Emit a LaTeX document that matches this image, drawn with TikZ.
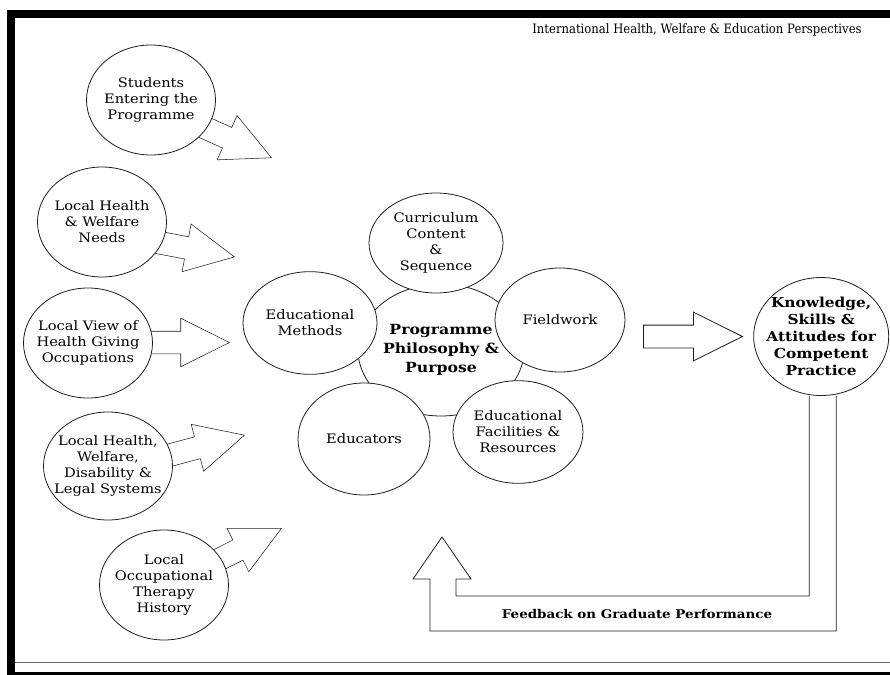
\documentclass[tikz,border=0pt]{standalone}
\usepackage{fontspec}
\setmainfont{DejaVu Serif}[FakeStretch=1.12]
\newfontfamily\headfont{DejaVu Serif}[FakeStretch=0.9]
\usetikzlibrary{positioning,shapes.geometric,shapes.arrows,backgrounds}
\definecolor{ink}{HTML}{1E1E1E}

\begin{document}
\begin{tikzpicture}[
  x=0.75pt, y=-0.75pt,
  font=\fontsize{9.8}{12}\selectfont,
  line width=0.6pt,
  blob/.style={ellipse, draw=ink, fill=white, align=center, inner xsep=-8pt, inner ysep=0pt, minimum width=96.75pt, minimum height=82.5pt},
  barrow/.style={single arrow, draw=ink, fill=white, inner xsep=0pt, inner ysep=8.25pt, minimum width=36pt, single arrow head extend=9.75pt, single arrow tip angle=53, minimum height=85pt},
  hub/.style={font=\fontsize{10.5}{14.25}\selectfont\bfseries}
]
\useasboundingbox (0,0) rectangle (890,675);

% frame of the scanned page
\fill[black] (7,10) rectangle (890,18);
\fill[black] (7,10) rectangle (15,675);
\fill[black] (7,672) rectangle (890,675);
\draw[black!60] (15,662) -- (890,662);

\node[font=\headfont\fontsize{9.7}{11}\selectfont] (title) at (697,30) {International Health, Welfare \& Education Perspectives};

% programme in the middle
\node[blob, hub, minimum width=124.5pt, minimum height=99pt] (prog) at (441,350) {Programme\\Philosophy \&\\Purpose};
\node[blob, minimum width=100.5pt, minimum height=75pt] (curr) at (436,243) {Curriculum\\Content\\\&\\Sequence};
\node[blob, minimum width=100.5pt, minimum height=77pt] (meth) at (310,323) {Educational\\Methods};
\node[blob, minimum width=97.5pt, minimum height=78pt] (field) at (560,320) {Fieldwork};
\node[blob, minimum width=99pt, minimum height=84pt] (edu) at (364,439) {Educators};
\node[blob, minimum width=97.5pt, minimum height=77pt] (fac) at (518,432) {Educational\\Facilities \&\\Resources};

% local inputs
\node[blob] (stu) at (151,100) {Students\\Entering the\\Programme};
\node[blob] (need) at (102,222) {Local Health\\\& Welfare\\Needs};
\node[blob] (view) at (88,343) {Local View of\\Health Giving\\Occupations};
\node[blob, minimum height=81pt] (legal) at (108,466) {Local Health,\\Welfare,\\Disability \&\\Legal Systems};
\node[blob] (hist) at (164,585) {Local\\Occupational\\Therapy\\History};

% outcome
\node[barrow, minimum height=74.25pt, anchor=tail] (out) at (643,336.5) {};
\node[blob, font=\fontsize{10.3}{12.75}\selectfont\bfseries, inner ysep=-4pt, minimum width=101.25pt, minimum height=88.5pt, right=7.5pt of out.tip] (know) {Knowledge,\\Skills \&\\Attitudes for\\Competent\\Practice};

% feedback loop
\draw[ink] ([xshift=-9pt]know.south) |- (456,596) -- (456,579) -- (471,579) -- (442,537) -- (413,579) -- (430,579) -- (430,631) -| ([xshift=11.25pt]know.south);
\node[font=\fontsize{9}{10}\selectfont\bfseries] (fb) at (637,614) {Feedback on Graduate Performance};

\begin{pgfonlayer}{background}
\node[barrow, rotate=-24.3, anchor=tip] (a1) at (272,158) {};
\node[barrow, rotate=-10.7, anchor=tip] (a2) at (235,257) {};
\node[barrow, anchor=tip] (a3) at (230,342.5) {};
\node[barrow, rotate=15, anchor=tip] (a4) at (245,435) {};
\node[barrow, rotate=26.6, anchor=tip] (a5) at (282,528) {};
\end{pgfonlayer}
\end{tikzpicture}
\end{document}
